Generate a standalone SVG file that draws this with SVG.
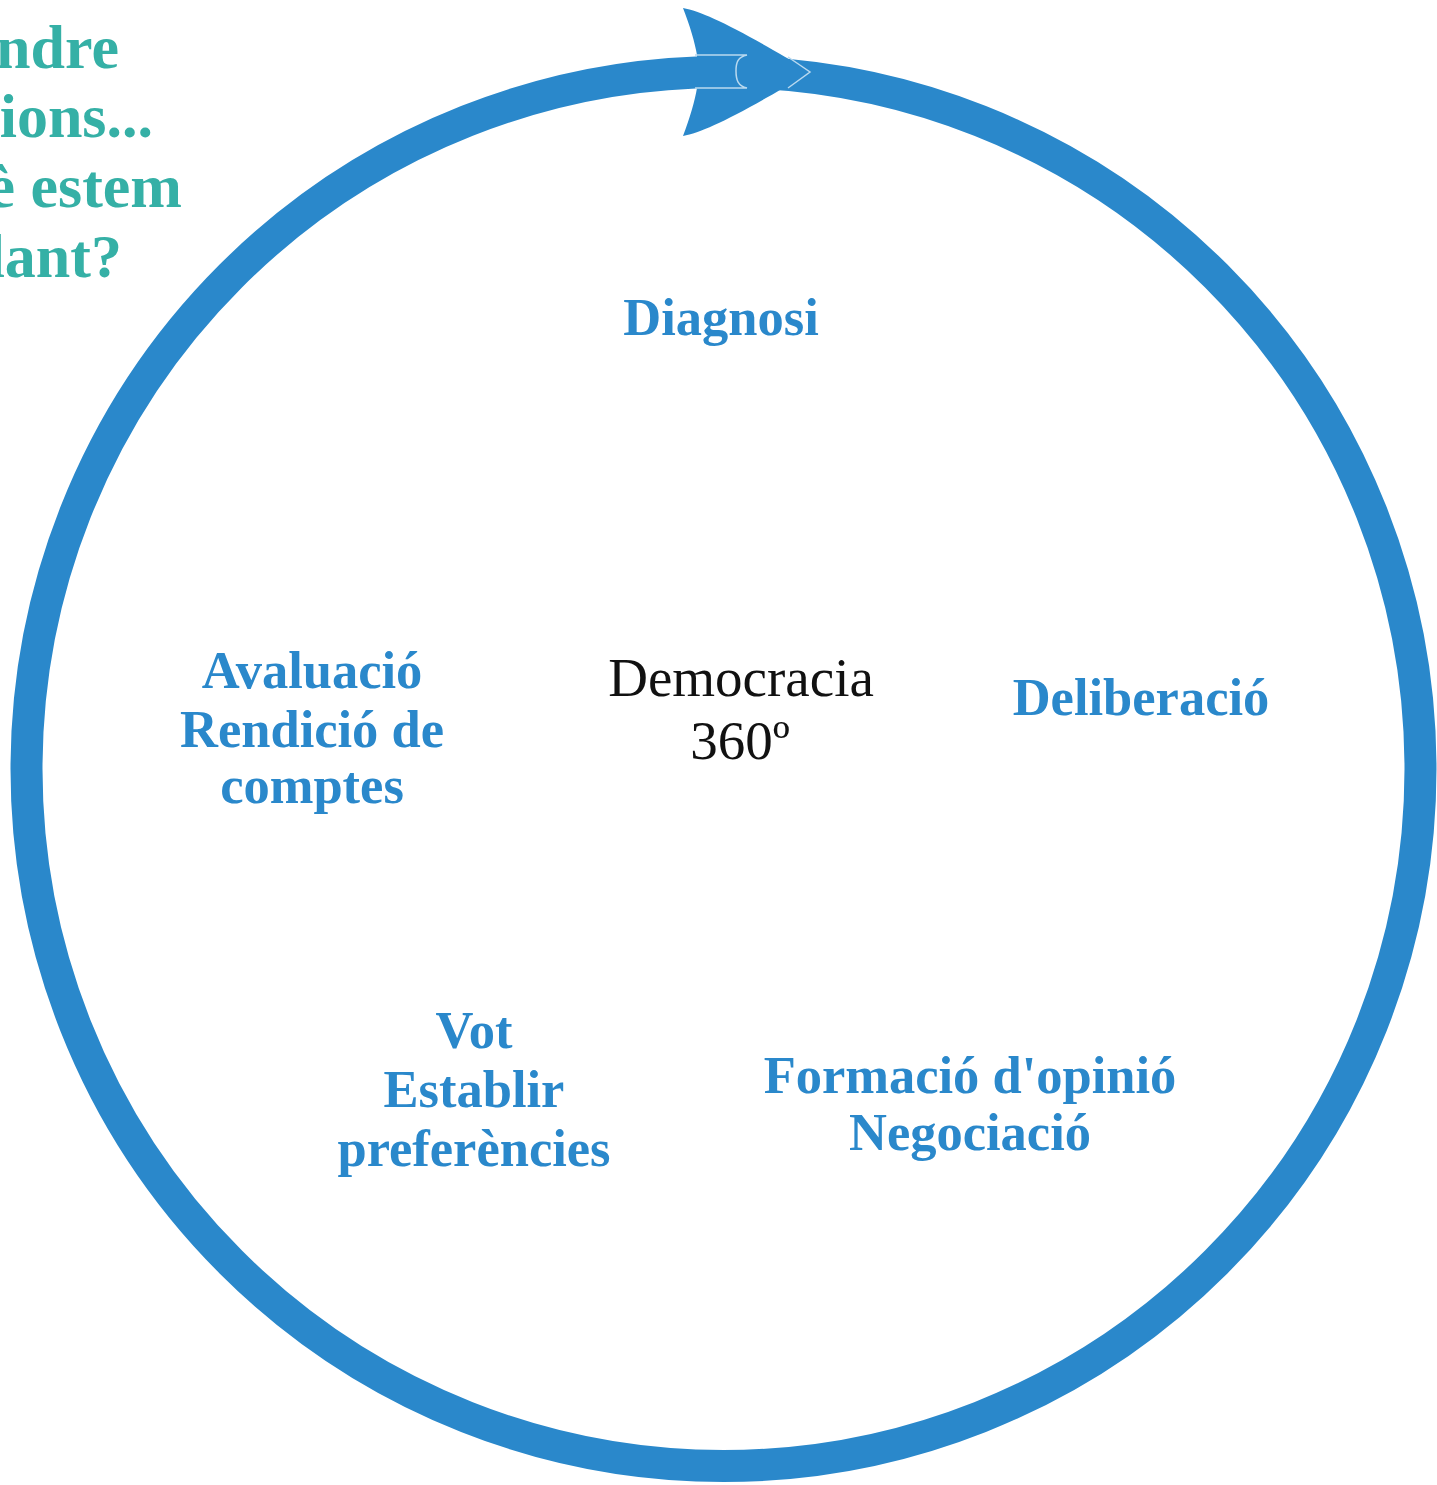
<svg xmlns="http://www.w3.org/2000/svg" width="1437" height="1485" viewBox="0 0 1437 1485">
<style>
.lbl{font-family:"Liberation Serif","Times New Roman",serif;font-weight:bold;font-size:52.5px;fill:#2a88cb;text-anchor:middle}
.teal{font-family:"Liberation Serif","Times New Roman",serif;font-weight:bold;font-size:62px;fill:#35b0a6;text-anchor:end}
.center{font-family:"Liberation Serif","Times New Roman",serif;font-size:55px;fill:#111;text-anchor:middle}
.hl{fill:none;stroke:#b9d9ef;stroke-width:1.5}
</style>
<rect width="1437" height="1485" fill="#fff"/>
<g id="title">
<text class="teal" x="119" y="68">ndre</text>
<text class="teal" x="153" y="137">ions...</text>
<text class="teal" x="182" y="207">è estem</text>
<text class="teal" x="122" y="277">lant?</text>
</g>
<g id="connectors">
<circle cx="723.5" cy="769" r="697" fill="none" stroke="#2a88cb" stroke-width="32"/>
<path d="M683,8 C705,12 740,30 811,72 C740,114 705,132 683,136 C690,118 695,100 697,88 L697,55 C695,43 690,26 683,8 Z" fill="#2a88cb"/>
<path class="hl" d="M695,55 L747,55 C738,57 736,62 736,71 C736,80 738,86 747,88 L695,88"/>
<path class="hl" d="M788,57 L810,72 L788,88"/>
</g>
<g id="node-center">
<text class="center" x="741" y="696">Democracia</text>
<text class="center" x="740" y="759">360º</text>
</g>
<g id="node-diagnosi">
<text class="lbl" x="721" y="335">Diagnosi</text>
</g>
<g id="node-deliberacio">
<text class="lbl" x="1141" y="715">Deliberació</text>
</g>
<g id="node-formacio">
<text class="lbl" x="970" y="1093">Formació d'opinió</text>
<text class="lbl" x="970" y="1150">Negociació</text>
</g>
<g id="node-vot">
<text class="lbl" x="474" y="1048">Vot</text>
<text class="lbl" x="474" y="1107">Establir</text>
<text class="lbl" x="474" y="1166">preferències</text>
</g>
<g id="node-avaluacio">
<text class="lbl" x="312" y="688">Avaluació</text>
<text class="lbl" x="312" y="747">Rendició de</text>
<text class="lbl" x="312" y="803">comptes</text>
</g>
</svg>
